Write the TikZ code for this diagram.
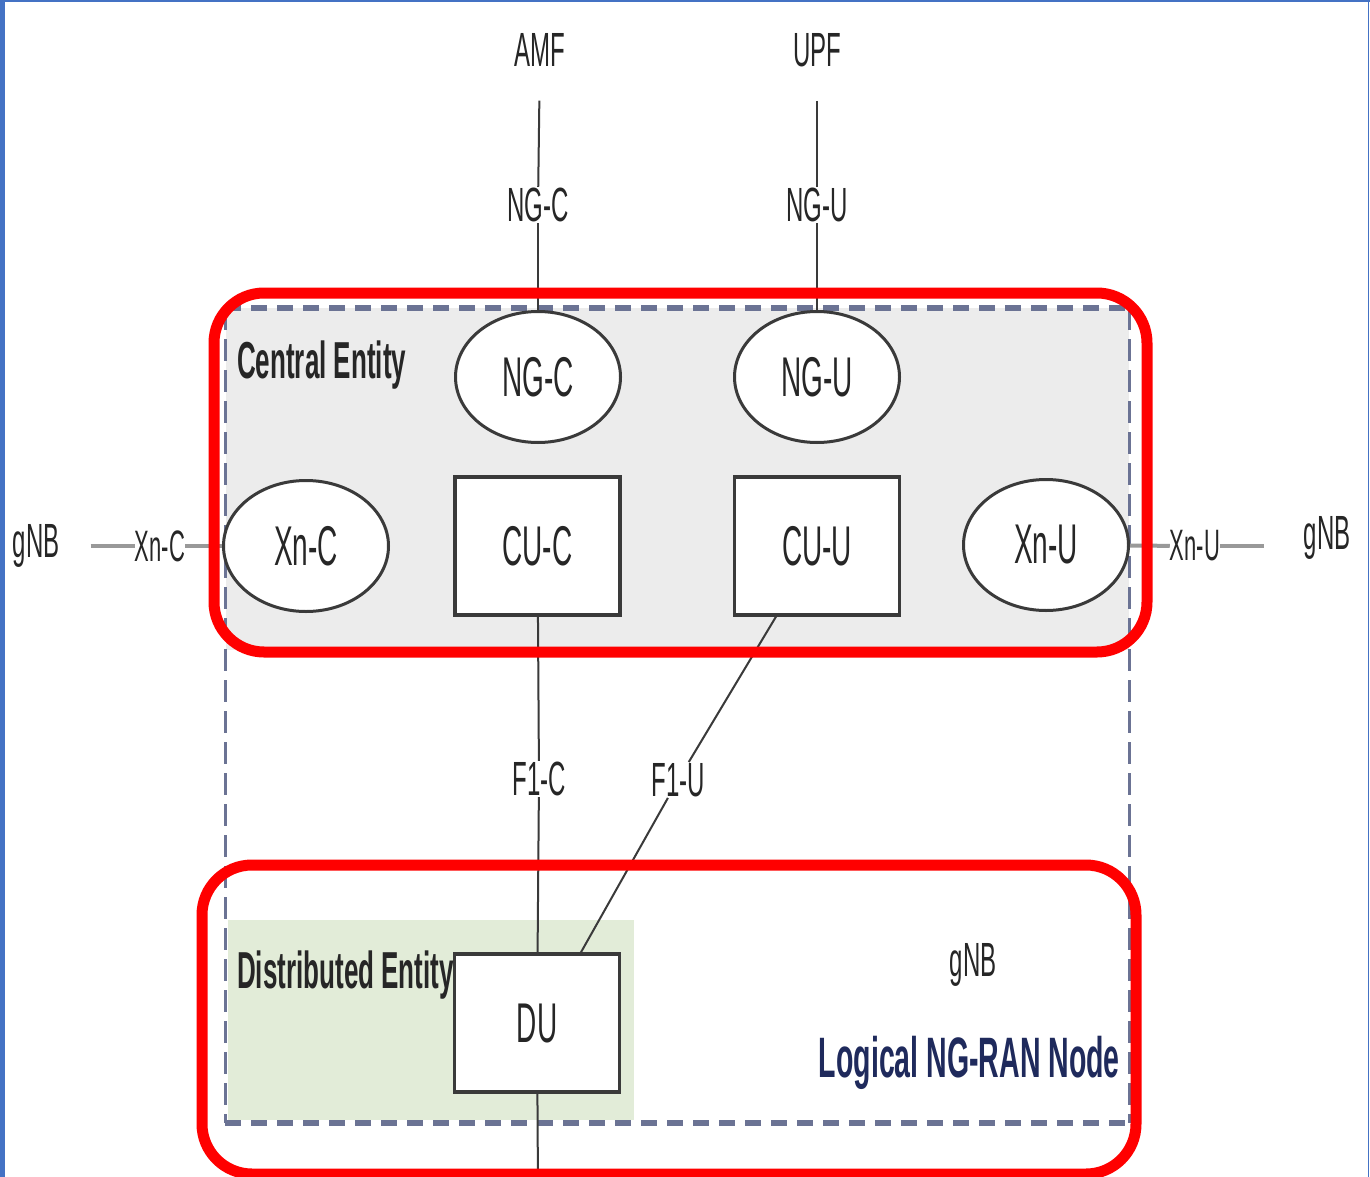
\documentclass[tikz,border=0pt]{standalone}
\usepackage{fontspec}
\newfontfamily\nf[FakeStretch=0.5]{Liberation Sans}
\usetikzlibrary{shapes.geometric}
\definecolor{txt}{HTML}{262626}
\definecolor{ln}{HTML}{3a3a3a}
\definecolor{dsh}{HTML}{6b7394}
\definecolor{cgray}{HTML}{ECECEC}
\definecolor{dgreen}{HTML}{E2ECD8}
\definecolor{navy}{HTML}{1F2A5C}
\definecolor{rred}{HTML}{FF0000}
\definecolor{bblue}{HTML}{4472C4}
\begin{document}
\begin{tikzpicture}[x=1pt,y=-1pt,
  lbl/.style={font=\nf\fontsize{48}{52}\selectfont, text=txt, inner sep=1pt},
  inlbl/.style={font=\nf\fontsize{56}{60}\selectfont, text=txt},
  ell/.style={inlbl, ellipse, draw=ln, line width=3pt, fill=white, minimum width=165pt, minimum height=131pt, inner sep=0pt},
  boxn/.style={inlbl, rectangle, draw=ln, line width=3.5pt, fill=white, minimum width=165pt, minimum height=138pt, inner sep=0pt},
  link/.style={draw=ln, line width=2pt},
  extlink/.style={draw=gray!80, line width=4pt},
  title/.style={font=\nf\bfseries\fontsize{52}{56}\selectfont, text=black!85, inner sep=0pt},
  redbox/.style={draw=rred, line width=11pt, rounded corners=50pt}]
\useasboundingbox (0,0) rectangle (1370,1177);
\fill[white] (0,0) rectangle (1370,1177);
% background areas
\fill[cgray] (226,308) rectangle (1129,650);
\fill[dgreen] (228,920) rectangle (634,1120);
% dashed gNB boundary
\draw[dsh, line width=6pt, dash pattern=on 16pt off 10pt] (225,308) -- (1129,308);
\draw[dsh, line width=6pt, dash pattern=on 16pt off 10pt] (225,1123) -- (1129,1123);
\draw[dsh, line width=3pt, dash pattern=on 22pt off 9pt] (225,308) -- (225,1123);
\draw[dsh, line width=3pt, dash pattern=on 22pt off 9pt] (1129,308) -- (1129,1123);
% nodes
\node[lbl] (amf) at (540,50) {AMF};
\node[lbl] (upf) at (817,50) {UPF};
\node[lbl] (ngcl) at (538,205) {NG-C};
\node[lbl] (ngul) at (817,205) {NG-U};
\node[ell] (ngc) at (538,377) {NG-C};
\node[ell] (ngu) at (817,377) {NG-U};
\node[ell] (xnc) at (306,546) {Xn-C};
\node[ell] (xnu) at (1046,545) {Xn-U};
\node[boxn] (cuc) at (537.5,546) {CU-C};
\node[boxn] (cuu) at (817,546) {CU-U};
\node[boxn] (du) at (537,1023) {DU};
\node[lbl] (f1c) at (539,779) {F1-C};
\node[lbl] (f1u) at (678,780) {F1-U};
\node[lbl, font=\nf\fontsize{44}{48}\selectfont, inner sep=0pt] (xncl) at (160,546) {Xn-C};
\node[lbl, font=\nf\fontsize{44}{48}\selectfont, inner sep=0pt] (xnul) at (1195,546) {Xn-U};
\node[lbl] (gnbl) at (36,546) {gNB};
\node[lbl] (gnbr) at (1327,538) {gNB};
\node[lbl] (gnbi) at (973,965) {gNB};
\node[title, anchor=west] (ce) at (237,365) {Central Entity};
\node[title, anchor=west] (de) at (237,975) {Distributed Entity};
\node[title, anchor=east, text=navy, font=\nf\bfseries\fontsize{57}{60}\selectfont] (lnode) at (1120,1063) {Logical NG-RAN Node};
\coordinate (f1ua) at (777,615);
\coordinate (f1ub) at (580,954);
\coordinate (bot) at (538,1190);
% connectors
\draw[link, shorten <=33pt] (amf) -- (ngcl);
\draw[link] (ngcl) -- (ngc);
\draw[link, shorten <=33pt] (upf) -- (ngul);
\draw[link] (ngul) -- (ngu);
\draw[link] (cuc) -- (f1c);
\draw[link] (f1c) -- (du);
\draw[link] (du) -- (bot);
\draw[link] (f1ua) -- (f1u);
\draw[link] (f1u) -- (f1ub);
\draw[extlink, shorten <=30pt] (gnbl) -- (xncl);
\draw[extlink] (xncl) -- (xnc);
\draw[extlink] (xnu) -- (xnul);
\draw[extlink, shorten >=38pt] (xnul) -- (gnbr.west |- xnul);
% red highlight boxes
\draw[redbox] (214,293) rectangle (1147,652);
\draw[redbox] (202,865) rectangle (1136,1174);
% blue frame
\draw[bblue, line width=5pt] (2,0) -- (2,1177);
\draw[bblue, line width=3pt] (0,1) -- (1370,1);
\draw[bblue, line width=1.5pt] (1368.5,0) -- (1368.5,1177);
\end{tikzpicture}
\end{document}
